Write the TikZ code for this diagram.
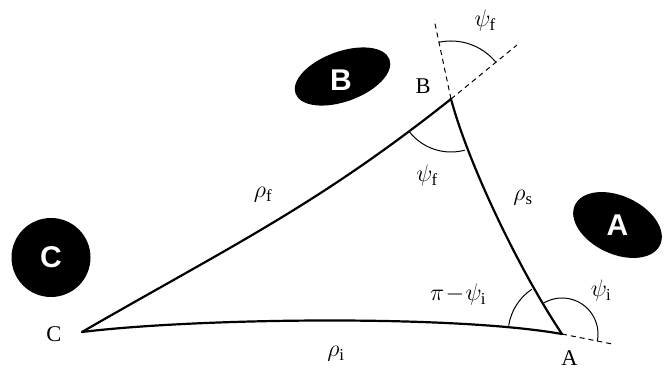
\documentclass[tikz,border=0pt]{standalone}
\usepackage{fix-cm}
\usepackage{fontspec}
\setmainfont{Liberation Serif}
\newfontfamily\blobfont{Liberation Sans}
\usepackage{amsmath}
\usepackage{tikz}

\begin{document}
\begin{tikzpicture}[
    x=1pt, y=1pt,
    side/.style={line width=2.2pt, line cap=round},
    ang/.style={line width=1pt},
    ext/.style={line width=1pt, dash pattern=on 5pt off 4pt},
    vlbl/.style={font=\fontsize{22.5}{26}\selectfont, inner sep=0pt},
    mlbl/.style={font=\fontsize{24}{28}\selectfont, inner sep=0pt},
    blobtxt/.style={text=white, font=\blobfont\bfseries\fontsize{30}{34}\selectfont, inner sep=0pt}
]
\useasboundingbox (0,0) rectangle (672,369);

% vertices
\coordinate (C) at (82,37);
\coordinate (B) at (451,270);
\coordinate (A) at (562,35);

% blobs
\fill[rotate around={20:(342.5,292.5)}] (342.5,292.5) ellipse [x radius=50pt, y radius=25pt];
\fill[rotate around={-25:(617.5,144)}] (617.5,144) ellipse [x radius=47pt, y radius=29pt];
\fill (51,111.5) circle [radius=39.5pt];
\node[blobtxt] (bB) at (341,289) {B};
\node[blobtxt] (bA) at (617.5,144) {A};
\node[blobtxt] (bC) at (51,111.5) {C};

% sides
\draw[side] (C) to[out=7, in=170, looseness=0.6] (A);
\draw[side] (C) to[out=30, in=218.5, looseness=1] (B);
\draw[side] (B) to[out=285, in=124, looseness=0.7] (A);

% extensions
\coordinate (Bup) at ([shift={(102:81)}]B);
\coordinate (Bright) at ([shift={(39.3:85)}]B);
\coordinate (Aright) at ([shift={(-11.3:51)}]A);
\draw[ext] (B) -- (Bup);
\draw[ext] (B) -- (Bright);
\draw[ext] (A) -- (Aright);

% angles
\draw[ang] ([shift={(218.5:53)}]B) arc[start angle=218.5, end angle=285, radius=53pt];
\draw[ang] ([shift={(39.3:58)}]B) arc[start angle=39.3, end angle=102, radius=58pt];
\draw[ang] ([shift={(124:54)}]A) arc[start angle=124, end angle=171, radius=54pt];
\draw[ang] ([shift={(-11.3:36)}]A) arc[start angle=-11.3, end angle=124, radius=36pt];

% labels
\node[vlbl] (lB) at (423,283) {B};
\node[vlbl] (lC) at (54,34.5) {C};
\node[vlbl] (lA) at (569.5,11) {A};

\node[mlbl] (psifo) at (485,348) {$\psi_{\mathrm{f}}$};
\node[mlbl] (psifi) at (427,193) {$\psi_{\mathrm{f}}$};
\node[mlbl] (rhof) at (263,174) {$\rho_{\mathrm{f}}$};
\node[mlbl] (rhos) at (523,171) {$\rho_{\mathrm{s}}$};
\node[mlbl] (pipsi) at (458,74) {$\pi\!-\!\psi_{\mathrm{i}}$};
\node[mlbl] (psii) at (601,78) {$\psi_{\mathrm{i}}$};
\node[mlbl] (rhoi) at (336,15) {$\rho_{\mathrm{i}}$};

\end{tikzpicture}
\end{document}
